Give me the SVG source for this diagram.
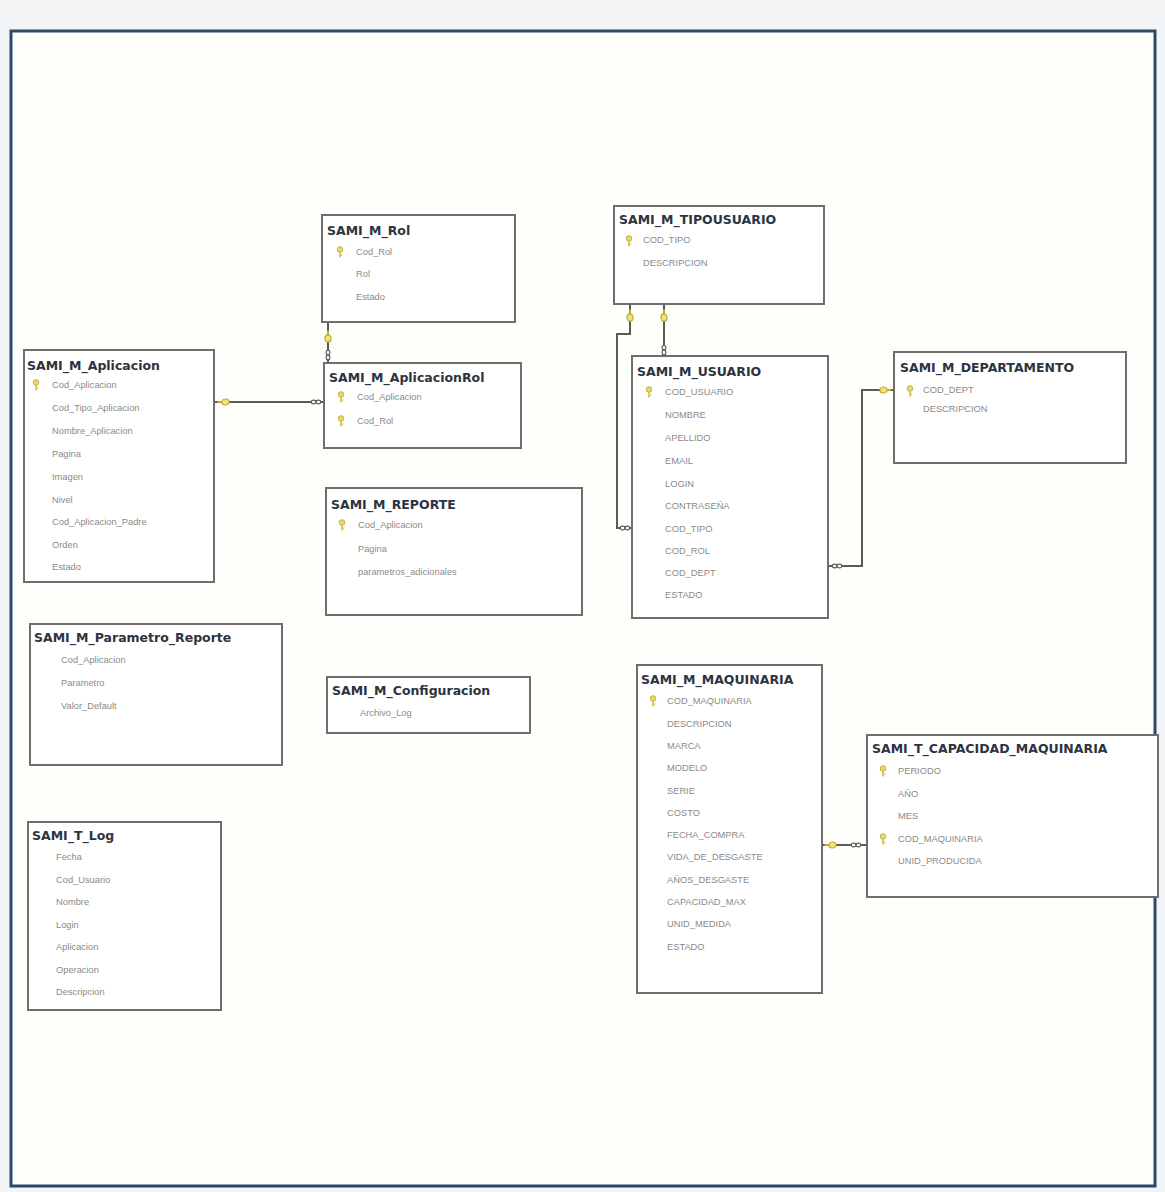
<svg xmlns="http://www.w3.org/2000/svg" xmlns:xlink="http://www.w3.org/1999/xlink" width="1165" height="1192" viewBox="0 0 1165 1192">
<style>
.tbl{fill:#ffffff;stroke:#6e6e6e;stroke-width:2}
.ttl{font-family:"DejaVu Sans","Liberation Sans",sans-serif;font-weight:bold;font-size:12.5px;fill:#2c3440}
.fld{font-family:"Liberation Sans",Arial,sans-serif;font-size:9.3px;fill:#8a8a8a}
.con{fill:none;stroke:#5a5a5a;stroke-width:2}
</style>
<defs>
<symbol id="pk" viewBox="0 0 8 12">
<circle cx="4" cy="3.5" r="2.8" fill="#ecd868" stroke="#b8a030" stroke-width="0.8"/>
<rect x="3.2" y="6" width="1.6" height="5.5" fill="#d4bc40"/>
<rect x="4.8" y="8.5" width="1.6" height="1.2" fill="#d4bc40"/>
</symbol>
<g id="rk">
<ellipse cx="-1.5" cy="0" rx="3.6" ry="3" fill="#f1e27a" stroke="#c0a830" stroke-width="1.2"/>
<rect x="2" y="-1" width="4.5" height="2" fill="#c0a830"/>
</g>
<g id="inf">
<ellipse cx="-2.4" cy="0" rx="2.3" ry="1.9" fill="#ffffff" stroke="#5a5a5a" stroke-width="1.1"/>
<ellipse cx="2.4" cy="0" rx="2.3" ry="1.9" fill="#ffffff" stroke="#5a5a5a" stroke-width="1.1"/>
</g>
</defs>

<rect x="0" y="0" width="1165" height="1192" fill="#f2f4f6"/>
<rect x="11" y="31" width="1144" height="1155" fill="#fefefb" stroke="#2c4868" stroke-width="3"/>

<g id="connectors">
<path class="con" d="M214,402 H324"/>
<use href="#rk" transform="translate(224,402) rotate(180)"/>
<use href="#inf" transform="translate(316,402)"/>

<path class="con" d="M328,322 V363"/>
<use href="#rk" transform="translate(328,337) rotate(-90)"/>
<use href="#inf" transform="translate(328,355) rotate(90)"/>

<path class="con" d="M664,304 V356"/>
<use href="#rk" transform="translate(664,316) rotate(-90)"/>
<use href="#inf" transform="translate(664,350) rotate(90)"/>

<path class="con" d="M630,304 V334 H617 V528 H632"/>
<use href="#rk" transform="translate(630,316) rotate(-90)"/>
<use href="#inf" transform="translate(625,528)"/>

<path class="con" d="M828,566 H862 V390 H894"/>
<use href="#rk" transform="translate(885,390)"/>
<use href="#inf" transform="translate(837,566)"/>

<path class="con" d="M822,845 H867"/>
<use href="#rk" transform="translate(831,845) rotate(180)"/>
<use href="#inf" transform="translate(856,845)"/>
</g>

<g id="SAMI_M_Aplicacion">
<rect class="tbl" x="24" y="350" width="190" height="232"/>
<text class="ttl" x="27" y="370">SAMI_M_Aplicacion</text>
<use href="#pk" x="32" y="379" width="8" height="12"/>
<text class="fld" x="52" y="388">Cod_Aplicacion</text>
<text class="fld" x="52" y="411">Cod_Tipo_Aplicacion</text>
<text class="fld" x="52" y="434">Nombre_Aplicacion</text>
<text class="fld" x="52" y="457">Pagina</text>
<text class="fld" x="52" y="480">Imagen</text>
<text class="fld" x="52" y="503">Nivel</text>
<text class="fld" x="52" y="525">Cod_Aplicacion_Padre</text>
<text class="fld" x="52" y="548">Orden</text>
<text class="fld" x="52" y="570">Estado</text>
</g>

<g id="SAMI_M_Rol">
<rect class="tbl" x="322" y="215" width="193" height="107"/>
<text class="ttl" x="327" y="235">SAMI_M_Rol</text>
<use href="#pk" x="336" y="246" width="8" height="12"/>
<text class="fld" x="356" y="255">Cod_Rol</text>
<text class="fld" x="356" y="277">Rol</text>
<text class="fld" x="356" y="300">Estado</text>
</g>

<g id="SAMI_M_AplicacionRol">
<rect class="tbl" x="324" y="363" width="197" height="85"/>
<text class="ttl" x="329" y="382">SAMI_M_AplicacionRol</text>
<use href="#pk" x="337" y="391" width="8" height="12"/>
<text class="fld" x="357" y="400">Cod_Aplicacion</text>
<use href="#pk" x="337" y="415" width="8" height="12"/>
<text class="fld" x="357" y="424">Cod_Rol</text>
</g>

<g id="SAMI_M_REPORTE">
<rect class="tbl" x="326" y="488" width="256" height="127"/>
<text class="ttl" x="331" y="509">SAMI_M_REPORTE</text>
<use href="#pk" x="338" y="519" width="8" height="12"/>
<text class="fld" x="358" y="528">Cod_Aplicacion</text>
<text class="fld" x="358" y="552">Pagina</text>
<text class="fld" x="358" y="575">parametros_adicionales</text>
</g>

<g id="SAMI_M_Parametro_Reporte">
<rect class="tbl" x="30" y="624" width="252" height="141"/>
<text class="ttl" x="34" y="642">SAMI_M_Parametro_Reporte</text>
<text class="fld" x="61" y="663">Cod_Aplicacion</text>
<text class="fld" x="61" y="686">Parametro</text>
<text class="fld" x="61" y="709">Valor_Default</text>
</g>

<g id="SAMI_M_Configuracion">
<rect class="tbl" x="327" y="677" width="203" height="56"/>
<text class="ttl" x="332" y="695">SAMI_M_Configuracion</text>
<text class="fld" x="360" y="716">Archivo_Log</text>
</g>

<g id="SAMI_T_Log">
<rect class="tbl" x="28" y="822" width="193" height="188"/>
<text class="ttl" x="32" y="840">SAMI_T_Log</text>
<text class="fld" x="56" y="860">Fecha</text>
<text class="fld" x="56" y="883">Cod_Usuario</text>
<text class="fld" x="56" y="905">Nombre</text>
<text class="fld" x="56" y="928">Login</text>
<text class="fld" x="56" y="950">Aplicacion</text>
<text class="fld" x="56" y="973">Operacion</text>
<text class="fld" x="56" y="995">Descripcion</text>
</g>

<g id="SAMI_M_TIPOUSUARIO">
<rect class="tbl" x="614" y="206" width="210" height="98"/>
<text class="ttl" x="619" y="224">SAMI_M_TIPOUSUARIO</text>
<use href="#pk" x="625" y="235" width="8" height="12"/>
<text class="fld" x="643" y="243">COD_TIPO</text>
<text class="fld" x="643" y="266">DESCRIPCION</text>
</g>

<g id="SAMI_M_USUARIO">
<rect class="tbl" x="632" y="356" width="196" height="262"/>
<text class="ttl" x="637" y="376">SAMI_M_USUARIO</text>
<use href="#pk" x="645" y="386" width="8" height="12"/>
<text class="fld" x="665" y="395">COD_USUARIO</text>
<text class="fld" x="665" y="418">NOMBRE</text>
<text class="fld" x="665" y="441">APELLIDO</text>
<text class="fld" x="665" y="464">EMAIL</text>
<text class="fld" x="665" y="487">LOGIN</text>
<text class="fld" x="665" y="509">CONTRASEÑA</text>
<text class="fld" x="665" y="532">COD_TIPO</text>
<text class="fld" x="665" y="554">COD_ROL</text>
<text class="fld" x="665" y="576">COD_DEPT</text>
<text class="fld" x="665" y="598">ESTADO</text>
</g>

<g id="SAMI_M_DEPARTAMENTO">
<rect class="tbl" x="894" y="352" width="232" height="111"/>
<text class="ttl" x="900" y="372">SAMI_M_DEPARTAMENTO</text>
<use href="#pk" x="906" y="385" width="8" height="12"/>
<text class="fld" x="923" y="393">COD_DEPT</text>
<text class="fld" x="923" y="412">DESCRIPCION</text>
</g>

<g id="SAMI_M_MAQUINARIA">
<rect class="tbl" x="637" y="665" width="185" height="328"/>
<text class="ttl" x="641" y="684">SAMI_M_MAQUINARIA</text>
<use href="#pk" x="649" y="695" width="8" height="12"/>
<text class="fld" x="667" y="704">COD_MAQUINARIA</text>
<text class="fld" x="667" y="727">DESCRIPCION</text>
<text class="fld" x="667" y="749">MARCA</text>
<text class="fld" x="667" y="771">MODELO</text>
<text class="fld" x="667" y="794">SERIE</text>
<text class="fld" x="667" y="816">COSTO</text>
<text class="fld" x="667" y="838">FECHA_COMPRA</text>
<text class="fld" x="667" y="860">VIDA_DE_DESGASTE</text>
<text class="fld" x="667" y="883">AÑOS_DESGASTE</text>
<text class="fld" x="667" y="905">CAPACIDAD_MAX</text>
<text class="fld" x="667" y="927">UNID_MEDIDA</text>
<text class="fld" x="667" y="950">ESTADO</text>
</g>

<g id="SAMI_T_CAPACIDAD_MAQUINARIA">
<rect class="tbl" x="867" y="735" width="291" height="162"/>
<text class="ttl" x="872" y="753">SAMI_T_CAPACIDAD_MAQUINARIA</text>
<use href="#pk" x="879" y="765" width="8" height="12"/>
<text class="fld" x="898" y="774">PERIODO</text>
<text class="fld" x="898" y="797">AÑO</text>
<text class="fld" x="898" y="819">MES</text>
<use href="#pk" x="879" y="833" width="8" height="12"/>
<text class="fld" x="898" y="842">COD_MAQUINARIA</text>
<text class="fld" x="898" y="864">UNID_PRODUCIDA</text>
</g>
</svg>
